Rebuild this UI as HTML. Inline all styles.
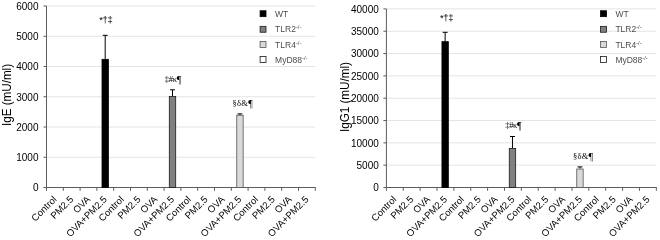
<!DOCTYPE html>
<html><head><meta charset="utf-8"><style>
html,body{margin:0;padding:0;background:#fff;}
body{width:660px;height:240px;overflow:hidden;}
svg{display:block;font-family:"Liberation Sans",sans-serif;filter:blur(0.4px);}
</style></head><body>
<svg width="660" height="240" viewBox="0 0 660 240">
<rect width="660" height="240" fill="#fff"/>
<line x1="43.50" y1="187.50" x2="46.50" y2="187.50" stroke="#5c5c5c" stroke-width="1"/>
<text x="38.50" y="191.40" text-anchor="end" font-size="10">0</text>
<line x1="46.50" y1="157.25" x2="315.30" y2="157.25" stroke="#e4e4e4" stroke-width="1"/>
<line x1="43.50" y1="157.25" x2="46.50" y2="157.25" stroke="#5c5c5c" stroke-width="1"/>
<text x="38.50" y="161.15" text-anchor="end" font-size="10">1000</text>
<line x1="46.50" y1="127.00" x2="315.30" y2="127.00" stroke="#e4e4e4" stroke-width="1"/>
<line x1="43.50" y1="127.00" x2="46.50" y2="127.00" stroke="#5c5c5c" stroke-width="1"/>
<text x="38.50" y="130.90" text-anchor="end" font-size="10">2000</text>
<line x1="46.50" y1="96.75" x2="315.30" y2="96.75" stroke="#e4e4e4" stroke-width="1"/>
<line x1="43.50" y1="96.75" x2="46.50" y2="96.75" stroke="#5c5c5c" stroke-width="1"/>
<text x="38.50" y="100.65" text-anchor="end" font-size="10">3000</text>
<line x1="46.50" y1="66.50" x2="315.30" y2="66.50" stroke="#e4e4e4" stroke-width="1"/>
<line x1="43.50" y1="66.50" x2="46.50" y2="66.50" stroke="#5c5c5c" stroke-width="1"/>
<text x="38.50" y="70.40" text-anchor="end" font-size="10">4000</text>
<line x1="46.50" y1="36.25" x2="315.30" y2="36.25" stroke="#e4e4e4" stroke-width="1"/>
<line x1="43.50" y1="36.25" x2="46.50" y2="36.25" stroke="#5c5c5c" stroke-width="1"/>
<text x="38.50" y="40.15" text-anchor="end" font-size="10">5000</text>
<line x1="46.50" y1="6.00" x2="315.30" y2="6.00" stroke="#e4e4e4" stroke-width="1"/>
<line x1="43.50" y1="6.00" x2="46.50" y2="6.00" stroke="#5c5c5c" stroke-width="1"/>
<text x="38.50" y="9.90" text-anchor="end" font-size="10">6000</text>
<line x1="46.50" y1="6.00" x2="46.50" y2="190.80" stroke="#5c5c5c" stroke-width="1"/>
<line x1="46.50" y1="187.50" x2="315.80" y2="187.50" stroke="#5c5c5c" stroke-width="1"/>
<line x1="63.30" y1="187.50" x2="63.30" y2="190.80" stroke="#5c5c5c" stroke-width="1"/>
<line x1="80.10" y1="187.50" x2="80.10" y2="190.80" stroke="#5c5c5c" stroke-width="1"/>
<line x1="96.90" y1="187.50" x2="96.90" y2="190.80" stroke="#5c5c5c" stroke-width="1"/>
<line x1="113.70" y1="187.50" x2="113.70" y2="190.80" stroke="#5c5c5c" stroke-width="1"/>
<line x1="130.50" y1="187.50" x2="130.50" y2="190.80" stroke="#5c5c5c" stroke-width="1"/>
<line x1="147.30" y1="187.50" x2="147.30" y2="190.80" stroke="#5c5c5c" stroke-width="1"/>
<line x1="164.10" y1="187.50" x2="164.10" y2="190.80" stroke="#5c5c5c" stroke-width="1"/>
<line x1="180.90" y1="187.50" x2="180.90" y2="190.80" stroke="#5c5c5c" stroke-width="1"/>
<line x1="197.70" y1="187.50" x2="197.70" y2="190.80" stroke="#5c5c5c" stroke-width="1"/>
<line x1="214.50" y1="187.50" x2="214.50" y2="190.80" stroke="#5c5c5c" stroke-width="1"/>
<line x1="231.30" y1="187.50" x2="231.30" y2="190.80" stroke="#5c5c5c" stroke-width="1"/>
<line x1="248.10" y1="187.50" x2="248.10" y2="190.80" stroke="#5c5c5c" stroke-width="1"/>
<line x1="264.90" y1="187.50" x2="264.90" y2="190.80" stroke="#5c5c5c" stroke-width="1"/>
<line x1="281.70" y1="187.50" x2="281.70" y2="190.80" stroke="#5c5c5c" stroke-width="1"/>
<line x1="298.50" y1="187.50" x2="298.50" y2="190.80" stroke="#5c5c5c" stroke-width="1"/>
<line x1="315.30" y1="187.50" x2="315.30" y2="190.80" stroke="#5c5c5c" stroke-width="1"/>
<text transform="translate(57.20,200) rotate(-45)" text-anchor="end" font-size="9.6">Control</text>
<text transform="translate(74.00,200) rotate(-45)" text-anchor="end" font-size="9.6">PM2.5</text>
<text transform="translate(90.80,200) rotate(-45)" text-anchor="end" font-size="9.6">OVA</text>
<text transform="translate(107.60,200) rotate(-45)" text-anchor="end" font-size="9.6">OVA+PM2.5</text>
<text transform="translate(124.40,200) rotate(-45)" text-anchor="end" font-size="9.6">Control</text>
<text transform="translate(141.20,200) rotate(-45)" text-anchor="end" font-size="9.6">PM2.5</text>
<text transform="translate(158.00,200) rotate(-45)" text-anchor="end" font-size="9.6">OVA</text>
<text transform="translate(174.80,200) rotate(-45)" text-anchor="end" font-size="9.6">OVA+PM2.5</text>
<text transform="translate(191.60,200) rotate(-45)" text-anchor="end" font-size="9.6">Control</text>
<text transform="translate(208.40,200) rotate(-45)" text-anchor="end" font-size="9.6">PM2.5</text>
<text transform="translate(225.20,200) rotate(-45)" text-anchor="end" font-size="9.6">OVA</text>
<text transform="translate(242.00,200) rotate(-45)" text-anchor="end" font-size="9.6">OVA+PM2.5</text>
<text transform="translate(258.80,200) rotate(-45)" text-anchor="end" font-size="9.6">Control</text>
<text transform="translate(275.60,200) rotate(-45)" text-anchor="end" font-size="9.6">PM2.5</text>
<text transform="translate(292.40,200) rotate(-45)" text-anchor="end" font-size="9.6">OVA</text>
<text transform="translate(309.20,200) rotate(-45)" text-anchor="end" font-size="9.6">OVA+PM2.5</text>
<line x1="105.20" y1="35.30" x2="105.20" y2="58.90" stroke="#000" stroke-width="1"/>
<line x1="102.70" y1="35.30" x2="107.70" y2="35.30" stroke="#000" stroke-width="1"/>
<rect x="102.00" y="59.30" width="6.4" height="128.20" fill="#000000" stroke="#000" stroke-width="0.8"/>
<text x="99.20" y="23.40" font-size="9.5" letter-spacing="-0.35">*†‡</text>
<line x1="172.50" y1="89.80" x2="172.50" y2="96.05" stroke="#000" stroke-width="1"/>
<line x1="170.00" y1="89.80" x2="175.00" y2="89.80" stroke="#000" stroke-width="1"/>
<rect x="169.30" y="96.45" width="6.4" height="91.05" fill="#808080" stroke="#1a1a1a" stroke-width="0.8"/>
<text x="164.80" y="82.00" font-size="8.5" letter-spacing="-0.3" font-family="Liberation Serif, serif">‡#κ<tspan font-size="10" dy="0.6">¶</tspan></text>
<line x1="239.95" y1="113.90" x2="239.95" y2="114.90" stroke="#000" stroke-width="1"/>
<line x1="237.45" y1="113.90" x2="242.45" y2="113.90" stroke="#000" stroke-width="1"/>
<rect x="236.75" y="115.30" width="6.4" height="72.20" fill="#d9d9d9" stroke="#555" stroke-width="0.8"/>
<text x="232.60" y="106.00" font-size="8.5" letter-spacing="0.25" font-family="Liberation Serif, serif">§δ&amp;<tspan font-size="10" dy="0.6">¶</tspan></text>
<rect x="260.10" y="10.75" width="5.9" height="5.9" fill="#000000" stroke="#000" stroke-width="0.8"/>
<text x="275.10" y="16.70" font-size="8.5" fill="#4d4d4d">WT</text>
<rect x="260.10" y="26.35" width="5.9" height="5.9" fill="#808080" stroke="#1a1a1a" stroke-width="0.8"/>
<text x="275.10" y="32.30" font-size="8.5" fill="#4d4d4d">TLR2<tspan font-size="5.8" dy="-3">-/-</tspan></text>
<rect x="260.10" y="41.55" width="5.9" height="5.9" fill="#d9d9d9" stroke="#555" stroke-width="0.8"/>
<text x="275.10" y="47.50" font-size="8.5" fill="#4d4d4d">TLR4<tspan font-size="5.8" dy="-3">-/-</tspan></text>
<rect x="260.10" y="56.55" width="5.9" height="5.9" fill="#ffffff" stroke="#1a1a1a" stroke-width="0.8"/>
<text x="275.10" y="62.50" font-size="8.5" fill="#4d4d4d">MyD88<tspan font-size="5.8" dy="-3">-/-</tspan></text>
<text transform="translate(10.8,95.0) rotate(-90) scale(0.972,1)" text-anchor="middle" font-size="12">IgE (mU/ml)</text>
<line x1="383.40" y1="187.50" x2="386.40" y2="187.50" stroke="#5c5c5c" stroke-width="1"/>
<text x="378.80" y="191.40" text-anchor="end" font-size="10">0</text>
<line x1="386.40" y1="165.18" x2="656.32" y2="165.18" stroke="#e4e4e4" stroke-width="1"/>
<line x1="383.40" y1="165.18" x2="386.40" y2="165.18" stroke="#5c5c5c" stroke-width="1"/>
<text x="378.80" y="169.08" text-anchor="end" font-size="10">5000</text>
<line x1="386.40" y1="142.85" x2="656.32" y2="142.85" stroke="#e4e4e4" stroke-width="1"/>
<line x1="383.40" y1="142.85" x2="386.40" y2="142.85" stroke="#5c5c5c" stroke-width="1"/>
<text x="378.80" y="146.75" text-anchor="end" font-size="10">10000</text>
<line x1="386.40" y1="120.53" x2="656.32" y2="120.53" stroke="#e4e4e4" stroke-width="1"/>
<line x1="383.40" y1="120.53" x2="386.40" y2="120.53" stroke="#5c5c5c" stroke-width="1"/>
<text x="378.80" y="124.43" text-anchor="end" font-size="10">15000</text>
<line x1="386.40" y1="98.20" x2="656.32" y2="98.20" stroke="#e4e4e4" stroke-width="1"/>
<line x1="383.40" y1="98.20" x2="386.40" y2="98.20" stroke="#5c5c5c" stroke-width="1"/>
<text x="378.80" y="102.10" text-anchor="end" font-size="10">20000</text>
<line x1="386.40" y1="75.88" x2="656.32" y2="75.88" stroke="#e4e4e4" stroke-width="1"/>
<line x1="383.40" y1="75.88" x2="386.40" y2="75.88" stroke="#5c5c5c" stroke-width="1"/>
<text x="378.80" y="79.78" text-anchor="end" font-size="10">25000</text>
<line x1="386.40" y1="53.55" x2="656.32" y2="53.55" stroke="#e4e4e4" stroke-width="1"/>
<line x1="383.40" y1="53.55" x2="386.40" y2="53.55" stroke="#5c5c5c" stroke-width="1"/>
<text x="378.80" y="57.45" text-anchor="end" font-size="10">30000</text>
<line x1="386.40" y1="31.22" x2="656.32" y2="31.22" stroke="#e4e4e4" stroke-width="1"/>
<line x1="383.40" y1="31.22" x2="386.40" y2="31.22" stroke="#5c5c5c" stroke-width="1"/>
<text x="378.80" y="35.12" text-anchor="end" font-size="10">35000</text>
<line x1="386.40" y1="8.90" x2="656.32" y2="8.90" stroke="#e4e4e4" stroke-width="1"/>
<line x1="383.40" y1="8.90" x2="386.40" y2="8.90" stroke="#5c5c5c" stroke-width="1"/>
<text x="378.80" y="12.80" text-anchor="end" font-size="10">40000</text>
<line x1="386.40" y1="8.90" x2="386.40" y2="190.80" stroke="#5c5c5c" stroke-width="1"/>
<line x1="386.40" y1="187.50" x2="656.82" y2="187.50" stroke="#5c5c5c" stroke-width="1"/>
<line x1="403.27" y1="187.50" x2="403.27" y2="190.80" stroke="#5c5c5c" stroke-width="1"/>
<line x1="420.14" y1="187.50" x2="420.14" y2="190.80" stroke="#5c5c5c" stroke-width="1"/>
<line x1="437.01" y1="187.50" x2="437.01" y2="190.80" stroke="#5c5c5c" stroke-width="1"/>
<line x1="453.88" y1="187.50" x2="453.88" y2="190.80" stroke="#5c5c5c" stroke-width="1"/>
<line x1="470.75" y1="187.50" x2="470.75" y2="190.80" stroke="#5c5c5c" stroke-width="1"/>
<line x1="487.62" y1="187.50" x2="487.62" y2="190.80" stroke="#5c5c5c" stroke-width="1"/>
<line x1="504.49" y1="187.50" x2="504.49" y2="190.80" stroke="#5c5c5c" stroke-width="1"/>
<line x1="521.36" y1="187.50" x2="521.36" y2="190.80" stroke="#5c5c5c" stroke-width="1"/>
<line x1="538.23" y1="187.50" x2="538.23" y2="190.80" stroke="#5c5c5c" stroke-width="1"/>
<line x1="555.10" y1="187.50" x2="555.10" y2="190.80" stroke="#5c5c5c" stroke-width="1"/>
<line x1="571.97" y1="187.50" x2="571.97" y2="190.80" stroke="#5c5c5c" stroke-width="1"/>
<line x1="588.84" y1="187.50" x2="588.84" y2="190.80" stroke="#5c5c5c" stroke-width="1"/>
<line x1="605.71" y1="187.50" x2="605.71" y2="190.80" stroke="#5c5c5c" stroke-width="1"/>
<line x1="622.58" y1="187.50" x2="622.58" y2="190.80" stroke="#5c5c5c" stroke-width="1"/>
<line x1="639.45" y1="187.50" x2="639.45" y2="190.80" stroke="#5c5c5c" stroke-width="1"/>
<line x1="656.32" y1="187.50" x2="656.32" y2="190.80" stroke="#5c5c5c" stroke-width="1"/>
<text transform="translate(397.13,200) rotate(-45)" text-anchor="end" font-size="9.6">Control</text>
<text transform="translate(414.00,200) rotate(-45)" text-anchor="end" font-size="9.6">PM2.5</text>
<text transform="translate(430.88,200) rotate(-45)" text-anchor="end" font-size="9.6">OVA</text>
<text transform="translate(447.75,200) rotate(-45)" text-anchor="end" font-size="9.6">OVA+PM2.5</text>
<text transform="translate(464.62,200) rotate(-45)" text-anchor="end" font-size="9.6">Control</text>
<text transform="translate(481.49,200) rotate(-45)" text-anchor="end" font-size="9.6">PM2.5</text>
<text transform="translate(498.35,200) rotate(-45)" text-anchor="end" font-size="9.6">OVA</text>
<text transform="translate(515.22,200) rotate(-45)" text-anchor="end" font-size="9.6">OVA+PM2.5</text>
<text transform="translate(532.09,200) rotate(-45)" text-anchor="end" font-size="9.6">Control</text>
<text transform="translate(548.96,200) rotate(-45)" text-anchor="end" font-size="9.6">PM2.5</text>
<text transform="translate(565.83,200) rotate(-45)" text-anchor="end" font-size="9.6">OVA</text>
<text transform="translate(582.70,200) rotate(-45)" text-anchor="end" font-size="9.6">OVA+PM2.5</text>
<text transform="translate(599.57,200) rotate(-45)" text-anchor="end" font-size="9.6">Control</text>
<text transform="translate(616.44,200) rotate(-45)" text-anchor="end" font-size="9.6">PM2.5</text>
<text transform="translate(633.31,200) rotate(-45)" text-anchor="end" font-size="9.6">OVA</text>
<text transform="translate(650.18,200) rotate(-45)" text-anchor="end" font-size="9.6">OVA+PM2.5</text>
<line x1="445.14" y1="32.30" x2="445.14" y2="41.25" stroke="#000" stroke-width="1"/>
<line x1="442.64" y1="32.30" x2="447.64" y2="32.30" stroke="#000" stroke-width="1"/>
<rect x="441.94" y="41.65" width="6.4" height="145.85" fill="#000000" stroke="#000" stroke-width="0.8"/>
<text x="440.00" y="20.70" font-size="9.5" letter-spacing="-0.35">*†‡</text>
<line x1="512.47" y1="136.50" x2="512.47" y2="148.10" stroke="#000" stroke-width="1"/>
<line x1="509.97" y1="136.50" x2="514.97" y2="136.50" stroke="#000" stroke-width="1"/>
<rect x="509.27" y="148.50" width="6.4" height="39.00" fill="#808080" stroke="#1a1a1a" stroke-width="0.8"/>
<text x="505.20" y="128.30" font-size="8.5" letter-spacing="-0.3" font-family="Liberation Serif, serif">‡#κ<tspan font-size="10" dy="0.6">¶</tspan></text>
<line x1="579.95" y1="166.90" x2="579.95" y2="168.60" stroke="#000" stroke-width="1"/>
<line x1="577.45" y1="166.90" x2="582.45" y2="166.90" stroke="#000" stroke-width="1"/>
<rect x="576.75" y="169.00" width="6.4" height="18.50" fill="#d9d9d9" stroke="#555" stroke-width="0.8"/>
<text x="572.90" y="159.00" font-size="8.5" letter-spacing="0.25" font-family="Liberation Serif, serif">§δ&amp;<tspan font-size="10" dy="0.6">¶</tspan></text>
<rect x="600.60" y="10.75" width="5.9" height="5.9" fill="#000000" stroke="#000" stroke-width="0.8"/>
<text x="615.40" y="16.70" font-size="8.5" fill="#4d4d4d">WT</text>
<rect x="600.60" y="26.35" width="5.9" height="5.9" fill="#808080" stroke="#1a1a1a" stroke-width="0.8"/>
<text x="615.40" y="32.30" font-size="8.5" fill="#4d4d4d">TLR2<tspan font-size="5.8" dy="-3">-/-</tspan></text>
<rect x="600.60" y="41.55" width="5.9" height="5.9" fill="#d9d9d9" stroke="#555" stroke-width="0.8"/>
<text x="615.40" y="47.50" font-size="8.5" fill="#4d4d4d">TLR4<tspan font-size="5.8" dy="-3">-/-</tspan></text>
<rect x="600.60" y="56.55" width="5.9" height="5.9" fill="#ffffff" stroke="#1a1a1a" stroke-width="0.8"/>
<text x="615.40" y="62.50" font-size="8.5" fill="#4d4d4d">MyD88<tspan font-size="5.8" dy="-3">-/-</tspan></text>
<text transform="translate(348.9,97.1) rotate(-90) scale(0.972,1)" text-anchor="middle" font-size="12">IgG1 (mU/ml)</text>
</svg>
</body></html>
